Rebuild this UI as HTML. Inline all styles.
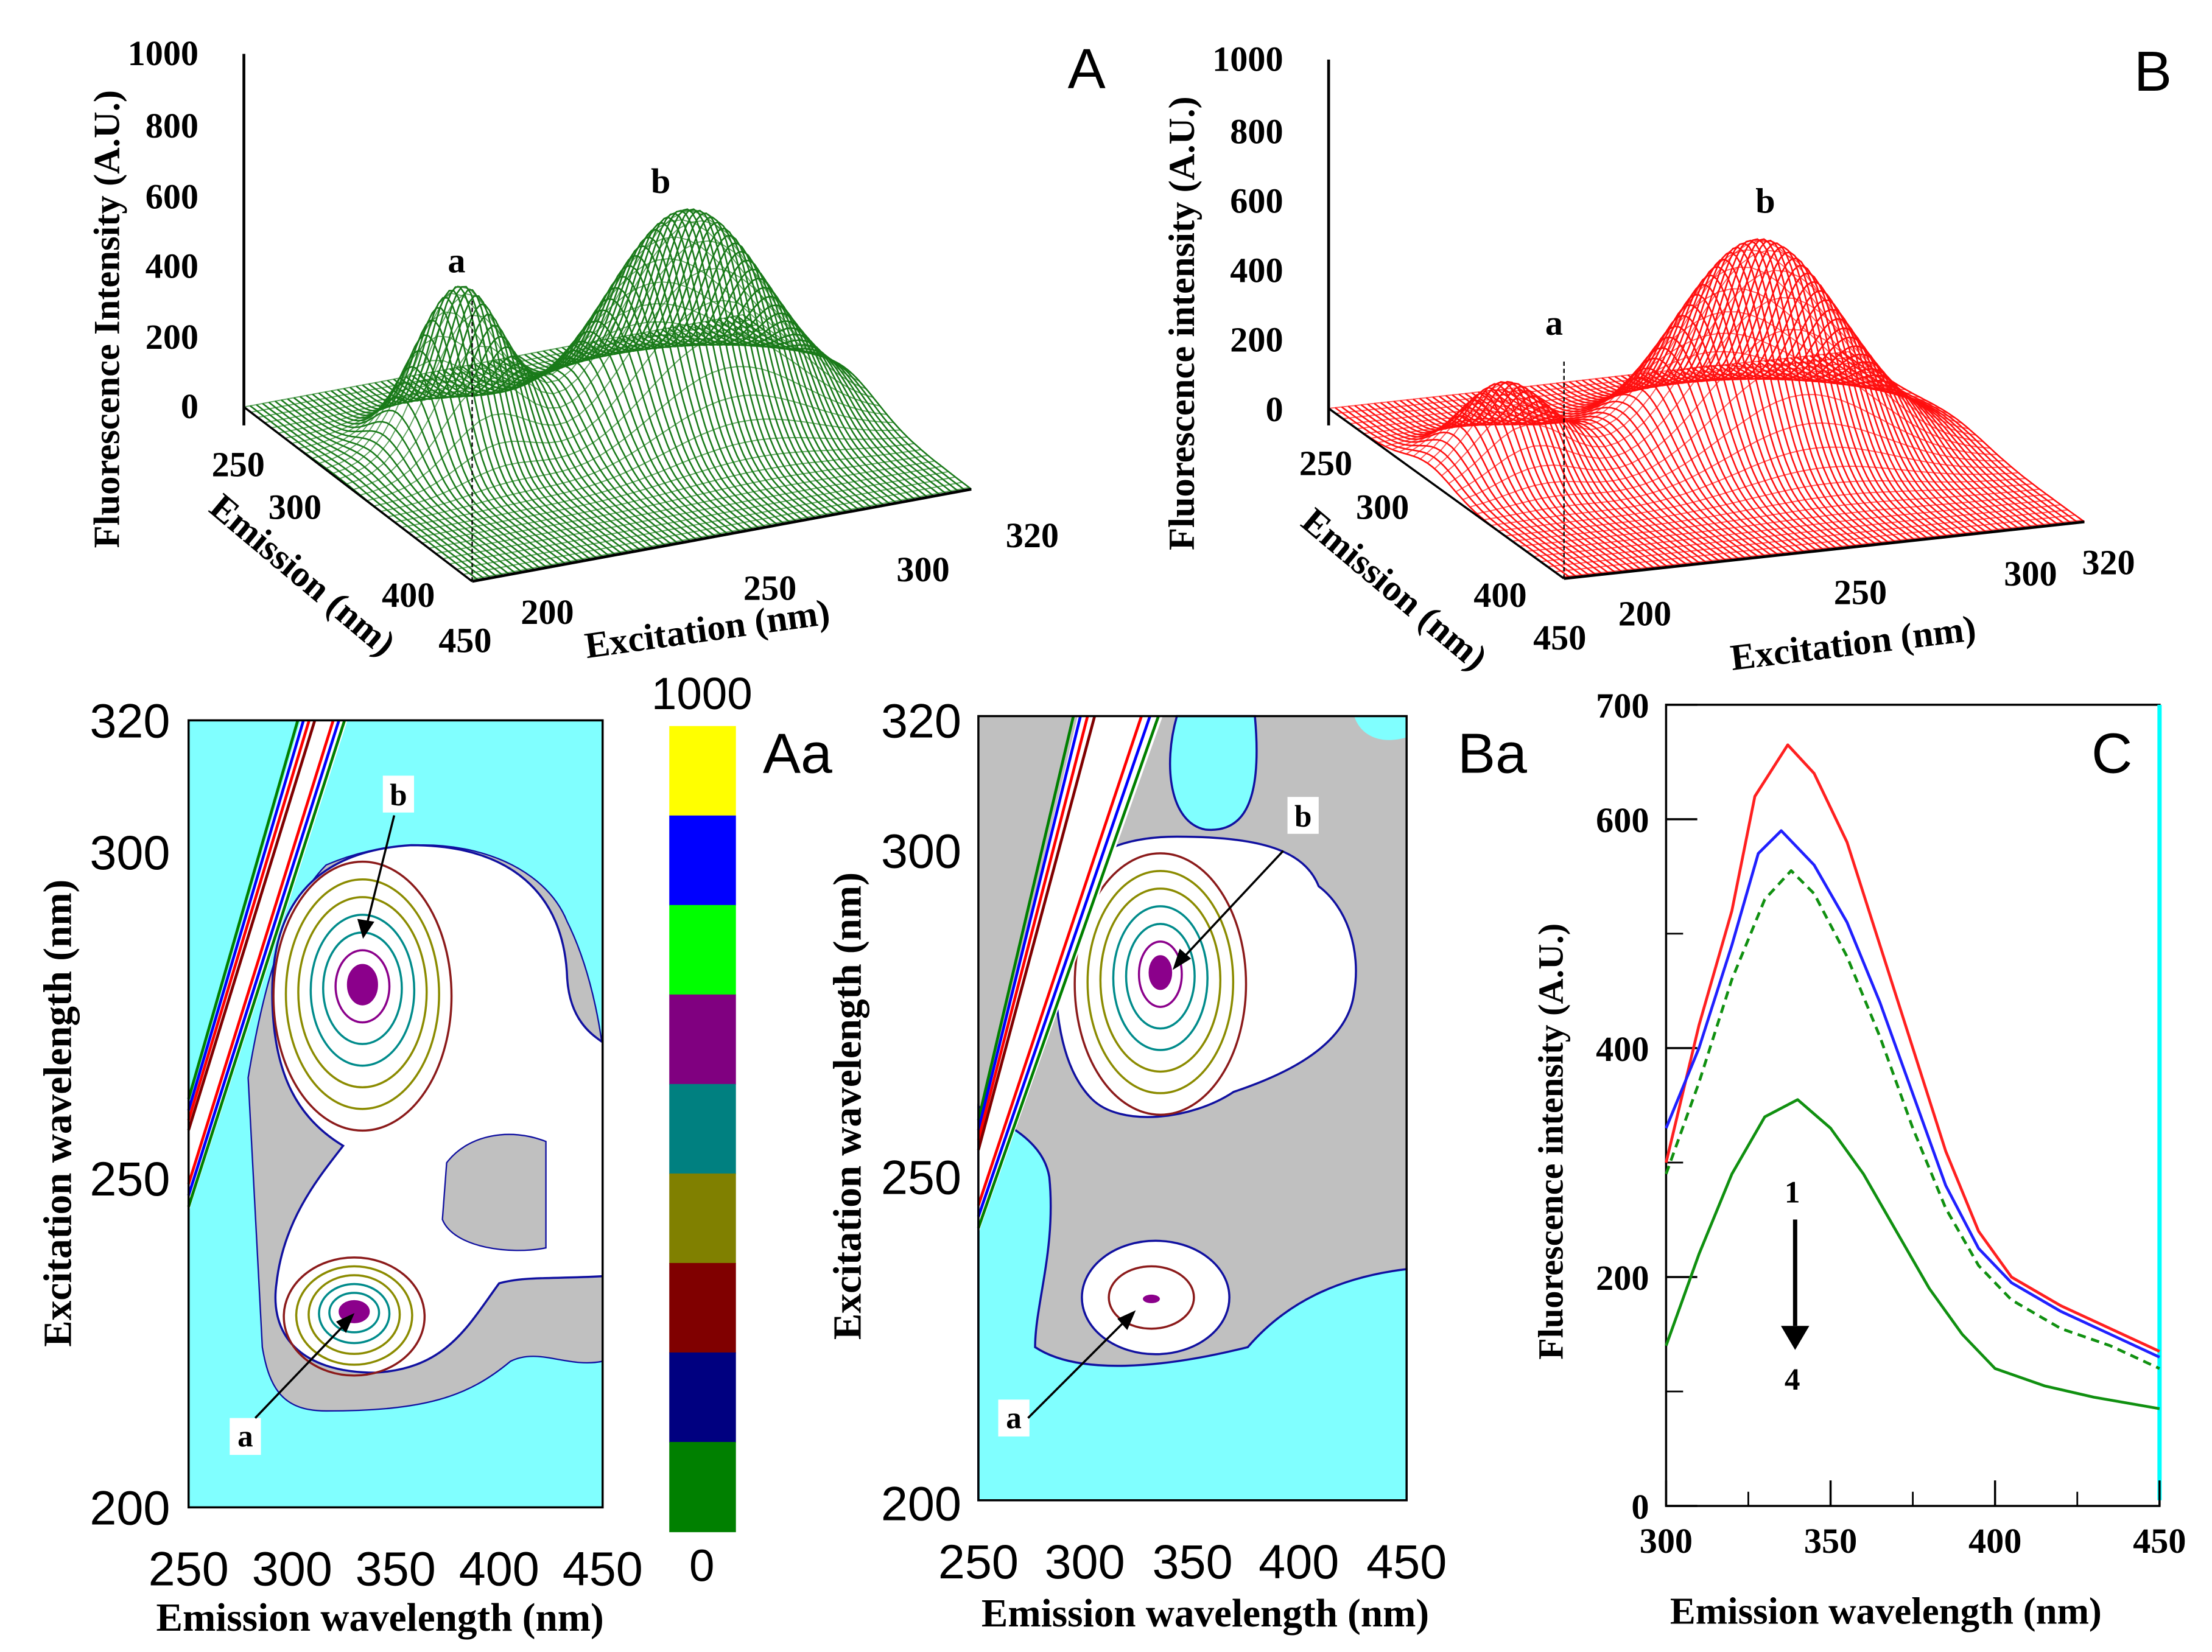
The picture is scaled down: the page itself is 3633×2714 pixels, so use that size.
<!DOCTYPE html>
<html><head><meta charset="utf-8"><style>
html,body{margin:0;padding:0;background:#fff;}
svg{display:block;}
.ser{font-family:"Liberation Serif",serif;font-weight:bold;}
.san{font-family:"Liberation Sans",sans-serif;}
</style></head><body>
<svg id="fig" width="3633" height="2714" viewBox="0 0 1560 1165" preserveAspectRatio="none" xmlns="http://www.w3.org/2000/svg">
<rect width="1560" height="1165" fill="#fff"/>
<g id="panelA"></g>
<g id="panelB"></g>

<g class="ser" font-size="25" fill="#000">
<line x1="172" y1="38" x2="172" y2="300" stroke="#000" stroke-width="2"/>
<line x1="172" y1="287" x2="333" y2="410" stroke="#000" stroke-width="1.5"/>
<line x1="333" y1="410" x2="685" y2="345" stroke="#000" stroke-width="2"/>
<text x="140" y="46" text-anchor="end">1000</text><text x="140" y="97" text-anchor="end">800</text>
<text x="140" y="147" text-anchor="end">600</text><text x="140" y="196" text-anchor="end">400</text>
<text x="140" y="246" text-anchor="end">200</text><text x="140" y="295" text-anchor="end">0</text>
<text x="168" y="336" text-anchor="middle">250</text><text x="208" y="366" text-anchor="middle">300</text>
<text x="288" y="428" text-anchor="middle">400</text><text x="328" y="460" text-anchor="middle">450</text>
<text x="386" y="440" text-anchor="middle">200</text><text x="543" y="423" text-anchor="middle">250</text>
<text x="651" y="410" text-anchor="middle">300</text><text x="728" y="386" text-anchor="middle">320</text>
<text x="322" y="192" text-anchor="middle">a</text><text x="466" y="136" text-anchor="middle">b</text>
<text transform="translate(84,225) rotate(-90)" text-anchor="middle" font-size="26">Fluorescence Intensity (A.U.)</text>
<text transform="translate(208,412) rotate(40)" text-anchor="middle" font-size="26">Emission (nm)</text>
<text transform="translate(500,452) rotate(-8)" text-anchor="middle" font-size="26">Excitation (nm)</text>
<line x1="333" y1="212" x2="333" y2="410" stroke="#000" stroke-width="1" stroke-dasharray="3,2"/>
</g>
<text x="753" y="62" class="san" font-size="40">A</text>

<g class="ser" font-size="25" fill="#000">
<line x1="937" y1="42" x2="937" y2="300" stroke="#000" stroke-width="2"/>
<line x1="937" y1="288" x2="1103" y2="408" stroke="#000" stroke-width="1.5"/>
<line x1="1103" y1="408" x2="1470" y2="368" stroke="#000" stroke-width="2"/>
<text x="905" y="50" text-anchor="end">1000</text><text x="905" y="101" text-anchor="end">800</text>
<text x="905" y="150" text-anchor="end">600</text><text x="905" y="199" text-anchor="end">400</text>
<text x="905" y="248" text-anchor="end">200</text><text x="905" y="297" text-anchor="end">0</text>
<text x="935" y="335" text-anchor="middle">250</text><text x="975" y="366" text-anchor="middle">300</text>
<text x="1058" y="428" text-anchor="middle">400</text><text x="1100" y="458" text-anchor="middle">450</text>
<text x="1160" y="441" text-anchor="middle">200</text><text x="1312" y="426" text-anchor="middle">250</text>
<text x="1432" y="413" text-anchor="middle">300</text><text x="1487" y="405" text-anchor="middle">320</text>
<text x="1096" y="236" text-anchor="middle">a</text><text x="1245" y="150" text-anchor="middle">b</text>
<text transform="translate(842,228) rotate(-90)" text-anchor="middle" font-size="26">Fluorescence intensity (A.U.)</text>
<text transform="translate(978,422) rotate(40)" text-anchor="middle" font-size="26">Emission (nm)</text>
<text transform="translate(1308,462) rotate(-7)" text-anchor="middle" font-size="26">Excitation (nm)</text>
<line x1="1103" y1="255" x2="1103" y2="408" stroke="#000" stroke-width="1" stroke-dasharray="3,2"/>
</g>
<text x="1505" y="64" class="san" font-size="40">B</text>

<g>
<rect x="133" y="508" width="292" height="555" fill="#80ffff"/>
<path d="M175,760 C185,700 200,640 230,610 C300,580 380,600 400,650 C420,690 425,740 425,740 L425,960 C400,965 380,950 360,960 C330,985 300,995 230,995 C200,995 190,980 185,950 Z" fill="#c0c0c0" stroke="#1010a0" stroke-width="1"/>
<path d="M192,700 C192,635 225,600 290,596 C360,596 398,630 400,690 C402,720 418,730 425,735 L425,900 C390,902 370,900 352,905 C330,935 315,965 265,968 C210,968 190,940 195,905 C200,860 225,830 242,808 C212,790 192,760 192,700 Z" fill="#fff" stroke="#1010a0" stroke-width="1.5"/>
<path d="M315,820 C330,800 360,795 385,805 L385,880 C360,885 320,880 312,860 Z" fill="#c0c0c0" stroke="#1010a0" stroke-width="1"/>
<g id="contAa"></g>
<g>
<polygon points="133,780 212,508 245,508 133,855" fill="#fff"/>
<line x1="133" y1="775" x2="210" y2="508" stroke="#008000" stroke-width="2"/>
<line x1="133" y1="783" x2="214" y2="508" stroke="#0000ff" stroke-width="2"/>
<line x1="133" y1="790" x2="218" y2="508" stroke="#ff0000" stroke-width="2"/>
<line x1="133" y1="797" x2="222" y2="508" stroke="#800000" stroke-width="2"/>
<line x1="133" y1="835" x2="235" y2="508" stroke="#ff0000" stroke-width="2"/>
<line x1="133" y1="843" x2="239" y2="508" stroke="#0000ff" stroke-width="2"/>
<line x1="133" y1="851" x2="243" y2="508" stroke="#008000" stroke-width="2"/>
</g>
<rect x="133" y="508" width="292" height="555" fill="none" stroke="#000" stroke-width="1.5"/>
<g class="ser" font-size="22">
<rect x="270" y="547" width="22" height="26" fill="#fff"/><text x="281" y="568" text-anchor="middle">b</text>
<rect x="162" y="1000" width="22" height="26" fill="#fff"/><text x="173" y="1020" text-anchor="middle">a</text>
</g>
<line x1="278" y1="575" x2="258" y2="655" stroke="#000" stroke-width="1.5"/><polygon points="256,662 252,648 264,650" fill="#000"/>
<line x1="180" y1="1000" x2="245" y2="932" stroke="#000" stroke-width="1.5"/><polygon points="250,926 244,940 237,932" fill="#000"/>
</g>
<g class="san" font-size="34" fill="#000">
<text x="120" y="520" text-anchor="end">320</text><text x="120" y="613" text-anchor="end">300</text>
<text x="120" y="843" text-anchor="end">250</text><text x="120" y="1075" text-anchor="end">200</text>
<text x="133" y="1118" text-anchor="middle">250</text><text x="206" y="1118" text-anchor="middle">300</text>
<text x="279" y="1118" text-anchor="middle">350</text><text x="352" y="1118" text-anchor="middle">400</text>
<text x="425" y="1118" text-anchor="middle">450</text>
</g>
<text x="268" y="1150" class="ser" font-size="28" text-anchor="middle">Emission wavelength (nm)</text>
<text transform="translate(50,785) rotate(-90)" class="ser" font-size="28" text-anchor="middle">Excitation wavelength (nm)</text>
<text x="538" y="545" class="san" font-size="40">Aa</text>

<g id="cbar"></g>
<text x="495" y="500" class="san" font-size="32" text-anchor="middle">1000</text>
<text x="495" y="1115" class="san" font-size="32" text-anchor="middle">0</text>

<g>
<rect x="690" y="505" width="302" height="553" fill="#c0c0c0"/>
<path d="M690,780 C700,790 735,800 740,830 C745,880 730,920 730,950 C760,970 820,965 880,950 C910,915 950,900 992,895 L992,1058 L690,1058 Z" fill="#80ffff" stroke="#1010a0" stroke-width="1.5"/>
<path d="M830,505 C820,540 825,580 850,585 C880,588 890,560 885,505 Z" fill="#80ffff" stroke="#1010a0" stroke-width="1.5"/>
<path d="M955,505 L992,505 L992,520 C975,525 960,520 955,505 Z" fill="#80ffff"/>
<path d="M745,650 C750,610 780,590 830,590 C890,590 920,600 930,625 C950,640 960,670 955,700 C950,740 900,760 870,770 C840,790 790,795 770,775 C745,750 742,700 745,650 Z" fill="#fff" stroke="#1010a0" stroke-width="1.5"/>
<ellipse cx="815" cy="915" rx="52" ry="40" fill="#fff" stroke="#1010a0" stroke-width="1.5"/>
<ellipse cx="812" cy="915" rx="30" ry="22" fill="none" stroke="#8b1a1a" stroke-width="1.5"/>
<ellipse cx="812" cy="916" rx="6" ry="3" fill="#8b008b"/>
<g id="contBa"></g>
<g>
<polygon points="690,800 760,505 820,505 690,870" fill="#fff"/>
<line x1="690" y1="790" x2="757" y2="505" stroke="#008000" stroke-width="2"/>
<line x1="690" y1="797" x2="762" y2="505" stroke="#0000ff" stroke-width="2"/>
<line x1="690" y1="804" x2="767" y2="505" stroke="#ff0000" stroke-width="2"/>
<line x1="690" y1="811" x2="772" y2="505" stroke="#800000" stroke-width="2"/>
<line x1="690" y1="850" x2="805" y2="505" stroke="#ff0000" stroke-width="2"/>
<line x1="690" y1="858" x2="811" y2="505" stroke="#0000ff" stroke-width="2"/>
<line x1="690" y1="866" x2="817" y2="505" stroke="#008000" stroke-width="2"/>
</g>
<rect x="690" y="505" width="302" height="553" fill="none" stroke="#000" stroke-width="1.5"/>
<g class="ser" font-size="22">
<rect x="908" y="562" width="22" height="26" fill="#fff"/><text x="919" y="583" text-anchor="middle">b</text>
<rect x="704" y="987" width="22" height="26" fill="#fff"/><text x="715" y="1007" text-anchor="middle">a</text>
</g>
<line x1="905" y1="600" x2="833" y2="677" stroke="#000" stroke-width="1.5"/><polygon points="827,684 832,669 840,676" fill="#000"/>
<line x1="725" y1="1000" x2="795" y2="930" stroke="#000" stroke-width="1.5"/><polygon points="801,924 795,938 788,930" fill="#000"/>
</g>
<g class="san" font-size="34" fill="#000">
<text x="678" y="520" text-anchor="end">320</text><text x="678" y="612" text-anchor="end">300</text>
<text x="678" y="842" text-anchor="end">250</text><text x="678" y="1072" text-anchor="end">200</text>
<text x="690" y="1113" text-anchor="middle">250</text><text x="765" y="1113" text-anchor="middle">300</text>
<text x="841" y="1113" text-anchor="middle">350</text><text x="916" y="1113" text-anchor="middle">400</text>
<text x="992" y="1113" text-anchor="middle">450</text>
</g>
<text x="850" y="1147" class="ser" font-size="28" text-anchor="middle">Emission wavelength (nm)</text>
<text transform="translate(607,780) rotate(-90)" class="ser" font-size="28" text-anchor="middle">Excitation wavelength (nm)</text>
<text x="1028" y="545" class="san" font-size="40">Ba</text>

<g id="panelC"></g>
<text x="1475" y="545" class="san" font-size="40">C</text>
<g>
<line x1="1266" y1="860" x2="1266" y2="935" stroke="#000" stroke-width="3"/>
<polygon points="1256,935 1276,935 1266,952" fill="#000"/>
<text x="1264" y="848" class="ser" font-size="22" text-anchor="middle">1</text>
<text x="1264" y="980" class="ser" font-size="22" text-anchor="middle">4</text>
</g>
<text transform="translate(1102,805) rotate(-90)" class="ser" font-size="25" text-anchor="middle">Fluorescence intensity (A.U.)</text>
<text x="1330" y="1145" class="ser" font-size="27" text-anchor="middle">Emission wavelength (nm)</text>
</svg>
<script>
// ---------- Panel C data ----------
const cX_red = [300,310,320,327,337,345,355,365,375,385,395,405,420,435,450];
const cY_red = [300,420,520,620,665,640,580,490,400,310,240,200,175,155,135];
const cX_blue = [300,310,320,328,335,345,355,365,375,385,395,405,420,435,450];
const cY_blue = [330,400,490,570,590,560,510,440,360,280,225,195,170,150,130];
const cX_dash = [300,310,320,330,338,345,355,365,375,385,395,405,420,435,450];
const cY_dash = [290,370,460,530,555,535,480,410,330,260,210,180,155,140,120];
const cX_green = [300,310,320,330,340,350,360,370,380,390,400,415,430,450];
const cY_green = [140,220,290,340,355,330,290,240,190,150,120,105,95,85];
const cYTicks = [0,200,400,600,700];
const cYMinor = [100,300,500];
const cXTicks = [300,350,400,450];
const cXMinor = [325,375,425];
// ---------- 3D surface peaks ----------
const peaksA_amp = [462, 600];
const peaksA_em = [330, 340];
const peaksA_ex = [230, 282];
const peaksB_amp = [250, 600];
const peaksB_em = [335, 340];
const peaksB_ex = [218, 275];
// ---------- colorbar ----------
const cbarColors = ["#ffff00","#0000ff","#00ff00","#800080","#008080","#808000","#800000","#000080","#008000"];
// ---------- contour peak centres (emission nm, excitation nm) ----------
const contA_b_center = [334, 280];
const contA_a_center = [330, 230];
const contB_b_center = [335, 281];
// ---------- contour half-widths (nm) ----------
const contA_b_rx = [43,37,31,25,19,13,7];
const contA_b_ry = [20.5,17.5,14.5,11.5,8.5,5.5,3];
const contA_a_rx = [34,28,22,17,12,7];
const contA_a_ry = [9,7.5,6,4.5,3,1.6];
const contB_b_rx = [40,34,28,22,16,10,5];
const contB_b_ry = [20,17,14,11,8,5,2.5];
const contColors = ["#8b1a1a","#8b8b00","#8b8b00","#008b8b","#008b8b","#8b008b","#8b008b"];

const NS = "http://www.w3.org/2000/svg";
function mk(tag, attrs, parent){ const e=document.createElementNS(NS,tag); for(const k in attrs) e.setAttribute(k,attrs[k]); parent.appendChild(e); return e; }

const cx0=1175, cx1=1523, cy0=1062, cy1=497;
const sx = v => cx0 + (v-300)/150*(cx1-cx0);
const sy = v => cy0 - v/700*(cy0-cy1);
const pc = document.getElementById('panelC');
mk('rect',{x:cx0,y:cy1,width:cx1-cx0,height:cy0-cy1,fill:'none',stroke:'#000','stroke-width':1.5},pc);
const cyan = mk('line',{x1:cx1,y1:cy1,x2:cx1,y2:cy0-4,stroke:'#00ffff','stroke-width':3},pc);


cYTicks.forEach(v=>{
  mk('line',{x1:cx0,y1:sy(v),x2:cx0+22,y2:sy(v),stroke:'#000','stroke-width':1.5},pc);
  const t=mk('text',{x:cx0-12,y:sy(v)+9,'text-anchor':'end','class':'ser','font-size':25},pc); t.textContent=v;
  
  
});
cYMinor.forEach(v=>mk('line',{x1:cx0,y1:sy(v),x2:cx0+12,y2:sy(v),stroke:'#000','stroke-width':1.2},pc));
cXTicks.forEach(v=>{
  mk('line',{x1:sx(v),y1:cy0,x2:sx(v),y2:cy0-18,stroke:'#000','stroke-width':1.5},pc);
  const t=mk('text',{x:sx(v),y:cy0+33,'text-anchor':'middle','class':'ser','font-size':25},pc); t.textContent=v;
  
  
});
cXMinor.forEach(v=>mk('line',{x1:sx(v),y1:cy0,x2:sx(v),y2:cy0-10,stroke:'#000','stroke-width':1.2},pc));
function series(xs,ys,color,name,dash){
  const pts=xs.map((x,i)=>sx(x).toFixed(1)+','+sy(ys[i]).toFixed(1)).join(' ');
  const p=mk('polyline',{points:pts,fill:'none',stroke:color,'stroke-width':2,'stroke-linejoin':'round'},pc);
  if(dash) p.setAttribute('stroke-dasharray','6,4');
  
  
}
series(cX_red,cY_red,'#ff2020','curve-1-red');
series(cX_blue,cY_blue,'#2020ff','curve-2-blue');
series(cX_dash,cY_dash,'#109010','curve-3-green-dashed',true);
series(cX_green,cY_green,'#109010','curve-4-green');

const cb=document.getElementById('cbar');
const cbTop=512, cbBot=1080, cbh=(cbBot-cbTop)/cbarColors.length;
cbarColors.forEach((c,i)=>{
  const r=mk('rect',{x:472,y:cbTop+i*cbh,width:47,height:cbh+0.5,fill:c},cb);
  
  
});

function contours(gid, xmap, ymap, center, rxs, rys){
  const g=document.getElementById(gid);
  const cE=center[0], cX=center[1];
  rxs.forEach((rx,i)=>{
    const ex = xmap(cE+rx)-xmap(cE), ey = ymap(cX)-ymap(cX+rys[i]);
    const e=mk('ellipse',{cx:xmap(cE),cy:ymap(cX)+ey*0.1,rx:ex,ry:ey,fill:(i===rxs.length-1)?'#8b008b':'none',stroke:contColors[i%contColors.length],'stroke-width':1.5},g);
    
    
  });
}
const axA = e => 133+(e-250)/200*292, ayA = x => 1063-(x-200)/120*555;
const axB = e => 690+(e-250)/200*302, ayB = x => 1058-(x-200)/120*553;
contours('contAa',axA,ayA,contA_b_center,contA_b_rx,contA_b_ry);
contours('contAa',axA,ayA,contA_a_center,contA_a_rx,contA_a_ry);
contours('contBa',axB,ayB,contB_b_center,contB_b_rx,contB_b_ry);

function surface(gid, origin, eVec, xVec, zScale, amps, ems, exs, color, step){
  const g=document.getElementById(gid);
  const P=(E,X,I)=>[origin[0]+(E-250)/200*eVec[0]+(X-200)/120*xVec[0], origin[1]+(E-250)/200*eVec[1]+(X-200)/120*xVec[1]-I*zScale];
  const wE=[28,38], wX=[14,26];
  const f=(E,X)=>{ let I=0; for(let k=0;k<amps.length;k++){ I+=amps[k]*Math.exp(-Math.pow((E-ems[k])/wE[k],2)-Math.pow((X-exs[k])/wX[k],2)); } return I; };
  for(let X=320; X>=200; X-=step){
    let pts=[];
    for(let E=250; E<=450; E+=4){ const p=P(E,X,f(E,X)); pts.push(p[0].toFixed(1)+','+p[1].toFixed(1)); }
    const l=mk('polyline',{points:pts.join(' '),fill:'none',stroke:color,'stroke-width':1.1},g);
    
    
  }
  for(let E=250; E<=450; E+=6){
    let pts=[];
    for(let X=200; X<=320; X+=3){ const p=P(E,X,f(E,X)); pts.push(p[0].toFixed(1)+','+p[1].toFixed(1)); }
    const l=mk('polyline',{points:pts.join(' '),fill:'none',stroke:color,'stroke-width':0.8,'stroke-opacity':0.7},g);
    
    
  }
}
surface('panelA',[172,287],[161,123],[352,-65],0.249,peaksA_amp,peaksA_em,peaksA_ex,'#1a7a1a',1.5);
surface('panelB',[937,288],[166,120],[367,-40],0.246,peaksB_amp,peaksB_em,peaksB_ex,'#ff1010',1.5);
</script>
</body></html>
